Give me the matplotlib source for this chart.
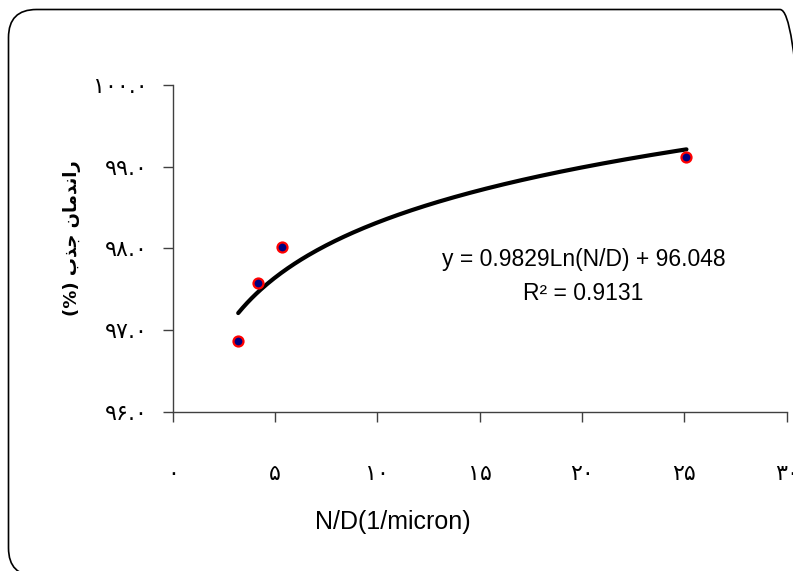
import numpy as np
import matplotlib.pyplot as plt
from matplotlib.patches import FancyBboxPatch
from matplotlib.transforms import IdentityTransform

# داده ها (خوانده شده از نمودار)
nd = [3.2, 4.15, 5.35, 25.1]          # N/D (1/micron)
eff = [96.87, 97.58, 98.02, 99.12]    # راندمان جذب (%)
x_ticks = [0, 5, 10, 15, 20, 25, 30]
y_ticks = [96, 97, 98, 99, 100]

eq_text = "y = 0.9829Ln(N/D) + 96.048"
r2_text = "R² = 0.9131"
x_title = "N/D(1/micron)"
# "راندمان جذب (%)" in presentation forms, visual order (matplotlib has no bidi)
y_title = "(%) " + "\uFE8F\uFEAC\uFE9F" + " " + "\uFEE5\uFE8E\uFEE3\uFEAA\uFEE7\uFE8D\uFEAD"

fa = str.maketrans("0123456789", "۰۱۲۳۴۵۶۷۸۹")

# خط روند لگاریتمی
b, a = np.polyfit(np.log(nd), eff, 1)
xs = np.linspace(min(nd), max(nd), 200)

fig = plt.figure(figsize=(7.93, 5.71), dpi=100)
ax = fig.add_axes([0.2178, 0.279, 0.7743, 0.572])

ax.plot(xs, a + b * np.log(xs), color="black", lw=3.0, solid_capstyle="round")
ax.plot(nd, eff, "o", ms=7.2, mfc="#000080", mec="red", mew=1.6)

ax.set_xlim(0, 30)
ax.set_ylim(96, 100)
ax.set_xticks(x_ticks)
ax.set_xticklabels([str(v).translate(fa) for v in x_ticks])
ax.set_yticks(y_ticks)
ax.set_yticklabels([f"{v:.1f}".translate(fa) for v in y_ticks])

for s in ["top", "right"]:
    ax.spines[s].set_visible(False)
for s in ["left", "bottom"]:
    ax.spines[s].set_color("#404040")
    ax.spines[s].set_linewidth(1.0)
    ax.spines[s].set_clip_on(False)

ax.tick_params(axis="both", direction="out", length=7, width=1.0, color="#404040",
               labelsize=16, labelfontfamily="DejaVu Sans")
ax.tick_params(axis="x", pad=31)
ax.tick_params(axis="y", pad=11)

fig.text(393 / 793, 1 - 522 / 571, x_title, ha="center", va="center",
         fontsize=18, family="Liberation Sans")
fig.text(72 / 793, 1 - 238 / 571, y_title, ha="center", va="center", rotation=90,
         fontsize=13, fontweight="bold", family="DejaVu Sans")

fig.text(584 / 793, 1 - 260 / 571, eq_text, ha="center", va="center",
         fontsize=16.5, family="Liberation Sans")
fig.text(583 / 793, 1 - 293 / 571, r2_text, ha="center", va="center",
         fontsize=16.5, family="Liberation Sans")

# قاب گرد دور نمودار
frame = FancyBboxPatch((8.5, -5), 799.5, 566.5, boxstyle="round,pad=0,rounding_size=28",
                       transform=IdentityTransform(), fill=False, ec="black", lw=1.2)
fig.add_artist(frame)

fig.savefig("out.png", dpi=100)
